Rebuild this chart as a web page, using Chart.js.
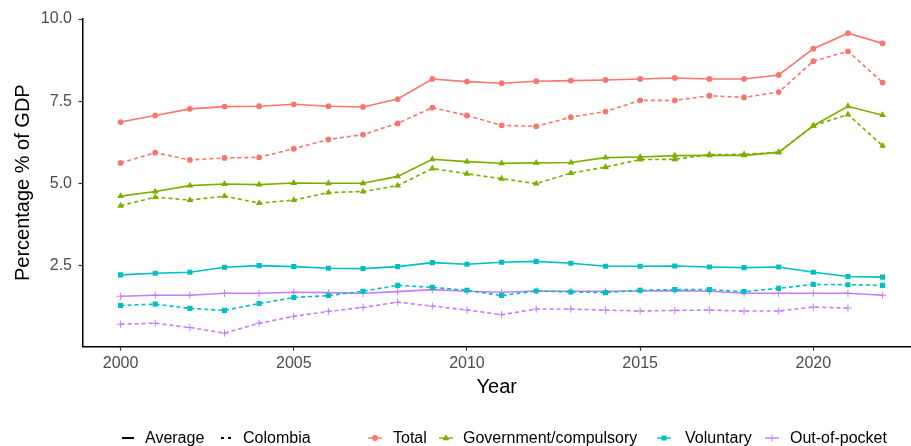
<!DOCTYPE html>
<html>
<head>
<meta charset="utf-8">
<title>Health expenditure, % of GDP</title>
<script src="https://cdn.jsdelivr.net/npm/chart.js@4.4.1/dist/chart.umd.min.js"></script>
<style>
  html, body { margin: 0; padding: 0; background: #fff; }
  #wrap { position: relative; width: 911px; height: 446px; font-family: "Liberation Sans", Arial, sans-serif; }
  #legend { position: absolute; left: 0; top: 428px; width: 911px; height: 20px; font-size: 16px; color: #000; }
  .item { position: absolute; top: 0; height: 20px; display: flex; align-items: center; white-space: nowrap; }
  .item svg { display: block; }
</style>
</head>
<body>
<div id="wrap">
  <canvas id="chart" width="911" height="446"></canvas>
  <div id="legend"></div>
</div>
<script>
// -- DATA -- //
const years = [2000, 2001, 2002, 2003, 2004, 2005, 2006, 2007, 2008, 2009, 2010, 2011,
               2012, 2013, 2014, 2015, 2016, 2017, 2018, 2019, 2020, 2021, 2022]

const totalAvg = [6.87, 7.07, 7.27, 7.34, 7.35, 7.41, 7.35, 7.33, 7.57, 8.18, 8.10, 8.05,
                  8.11, 8.13, 8.15, 8.18, 8.21, 8.18, 8.18, 8.30, 9.10, 9.57, 9.26]
const totalCol = [5.63, 5.94, 5.72, 5.78, 5.80, 6.06, 6.34, 6.49, 6.83, 7.31, 7.07, 6.77,
                  6.74, 7.02, 7.19, 7.53, 7.53, 7.67, 7.62, 7.78, 8.72, 9.02, 8.07]
const govAvg = [4.62, 4.76, 4.94, 4.99, 4.97, 5.02, 5.01, 5.01, 5.22, 5.74, 5.67, 5.62,
                5.63, 5.64, 5.79, 5.81, 5.85, 5.86, 5.86, 5.95, 6.76, 7.35, 7.08]
const govCol = [4.33, 4.59, 4.50, 4.62, 4.41, 4.50, 4.73, 4.76, 4.94, 5.46, 5.30, 5.15,
                5.00, 5.32, 5.50, 5.73, 5.74, 5.88, 5.89, 5.95, 6.76, 7.10, 6.15]
const volAvg = [2.23, 2.28, 2.31, 2.46, 2.51, 2.48, 2.43, 2.42, 2.48, 2.60, 2.55, 2.61,
                2.64, 2.58, 2.49, 2.49, 2.50, 2.47, 2.45, 2.47, 2.31, 2.18, 2.16]
const volCol = [1.30, 1.34, 1.21, 1.15, 1.36, 1.54, 1.60, 1.73, 1.91, 1.85, 1.76, 1.60,
                1.74, 1.71, 1.69, 1.76, 1.78, 1.78, 1.72, 1.82, 1.94, 1.93, 1.91]
const oopAvg = [1.58, 1.61, 1.61, 1.67, 1.67, 1.70, 1.69, 1.67, 1.72, 1.78, 1.73, 1.70,
                1.74, 1.73, 1.73, 1.74, 1.75, 1.73, 1.67, 1.67, 1.67, 1.67, 1.61]
const oopCol = [0.73, 0.76, 0.63, 0.46, 0.76, 0.97, 1.12, 1.24, 1.40, 1.28, 1.16, 1.02,
                1.19, 1.19, 1.16, 1.13, 1.15, 1.16, 1.13, 1.13, 1.25, 1.22, null]

const yTicks = [2.5, 5.0, 7.5, 10.0]
const xTicks = [2000, 2005, 2010, 2015, 2020]

const typeNames = ['Average', 'Colombia']
const categoryNames = ['Total', 'Government/compulsory', 'Voluntary', 'Out-of-pocket']

// -- STYLE -- //
const FONT = '"Liberation Sans", Arial, sans-serif'
const colors = ['#F8766D', '#7CAE00', '#00BFC4', '#C77CFF']
const shapes = ['circle', 'triangle', 'rect', 'cross']
const radii = [2.9, 3.9, 3.6, 3.6]

const makeSeries = (label, values, cat, dashed) => ({
  label: label,
  data: values.map((v, i) => ({ x: years[i], y: v })).filter(p => p.y !== null),
  borderColor: colors[cat],
  backgroundColor: colors[cat],
  borderWidth: 1.6,
  borderDash: dashed ? [4, 3] : [],
  tension: 0,
  pointStyle: shapes[cat],
  pointRadius: radii[cat],
  pointBackgroundColor: colors[cat],
  pointBorderColor: colors[cat],
  pointBorderWidth: shapes[cat] === 'cross' ? 1 : 0
})

const datasets = [
  makeSeries('Total - Average', totalAvg, 0, false),
  makeSeries('Total - Colombia', totalCol, 0, true),
  makeSeries('Government/compulsory - Average', govAvg, 1, false),
  makeSeries('Government/compulsory - Colombia', govCol, 1, true),
  makeSeries('Voluntary - Average', volAvg, 2, false),
  makeSeries('Voluntary - Colombia', volCol, 2, true),
  makeSeries('Out-of-pocket - Average', oopAvg, 3, false),
  makeSeries('Out-of-pocket - Colombia', oopCol, 3, true)
]

new Chart(document.getElementById('chart'), {
  type: 'line',
  data: { datasets },
  options: {
    responsive: false,
    animation: false,
    layout: { autoPadding: false, padding: { top: 18.7, right: 0, bottom: 40, left: 0 } },
    plugins: { legend: { display: false }, tooltip: { enabled: false } },
    scales: {
      x: {
        type: 'linear',
        min: 1998.9,
        max: 2022.82,
        afterBuildTicks: s => { s.ticks = xTicks.map(v => ({ value: v })) },
        afterFit: s => { s.height = 59.3 },
        ticks: { color: '#4D4D4D', font: { family: FONT, size: 16 }, padding: 3, maxRotation: 0,
                 callback: v => String(v) },
        grid: { drawOnChartArea: false, drawTicks: true, tickLength: 4, tickColor: '#333', tickWidth: 1.2 },
        border: { display: true, color: '#000', width: 1.5 },
        title: { display: true, text: 'Year', color: '#000', font: { family: FONT, size: 20 },
                 padding: { top: 0, bottom: 7 } }
      },
      y: {
        type: 'linear',
        min: 0.047,
        max: 10.01,
        afterBuildTicks: s => { s.ticks = yTicks.map(v => ({ value: v })) },
        afterFit: s => { s.width = 82.5 },
        ticks: { color: '#4D4D4D', font: { family: FONT, size: 16 }, padding: 6.5,
                 callback: v => v.toFixed(1) },
        grid: { drawOnChartArea: false, drawTicks: true, tickLength: 4, tickColor: '#333', tickWidth: 1.2 },
        border: { display: true, color: '#000', width: 1.5 },
        title: { display: true, text: 'Percentage % of GDP', color: '#000', font: { family: FONT, size: 20 },
                 padding: { top: 11, bottom: 0 } }
      }
    }
  }
})

// -- LEGEND -- //
const svgNS = 'http://www.w3.org/2000/svg'
const keySvg = (inner) => `<svg xmlns="${svgNS}" width="16" height="16" viewBox="0 0 16 16">${inner}</svg>`

const shapeSvg = (cat) => {
  const c = colors[cat]
  const line = `<line x1="1" y1="8" x2="15" y2="8" stroke="${c}" stroke-width="1.4"/>`
  if (shapes[cat] === 'circle') return keySvg(line + `<circle cx="8" cy="8" r="2.9" fill="${c}"/>`)
  if (shapes[cat] === 'triangle') return keySvg(line + `<polygon points="8,4.3 11.4,10.2 4.6,10.2" fill="${c}"/>`)
  if (shapes[cat] === 'rect') return keySvg(line + `<rect x="5.5" y="5.5" width="5" height="5" fill="${c}"/>`)
  return keySvg(line + `<line x1="8" y1="4.4" x2="8" y2="11.6" stroke="${c}" stroke-width="1"/>`)
}

const legendItems = [
  { key: keySvg('<line x1="2" y1="8" x2="14" y2="8" stroke="#000" stroke-width="2"/>'), text: typeNames[0], keyX: 120, textX: 145 },
  { key: keySvg('<line x1="3" y1="8" x2="13" y2="8" stroke="#000" stroke-width="2" stroke-dasharray="3 4"/>'), text: typeNames[1], keyX: 218, textX: 243 },
  { key: shapeSvg(0), text: categoryNames[0], keyX: 367, textX: 393 },
  { key: shapeSvg(1), text: categoryNames[1], keyX: 438, textX: 463 },
  { key: shapeSvg(2), text: categoryNames[2], keyX: 656, textX: 685 },
  { key: shapeSvg(3), text: categoryNames[3], keyX: 764, textX: 790 }
]

const legend = document.getElementById('legend')
legendItems.forEach(item => {
  const k = document.createElement('div')
  k.className = 'item'
  k.style.left = item.keyX + 'px'
  k.innerHTML = item.key
  legend.appendChild(k)
  const t = document.createElement('div')
  t.className = 'item'
  t.style.left = item.textX + 'px'
  t.textContent = item.text
  legend.appendChild(t)
})
</script>
</body>
</html>
